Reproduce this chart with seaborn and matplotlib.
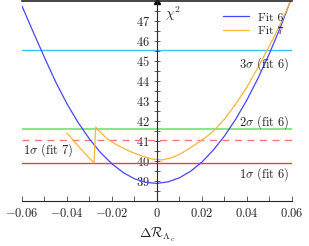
import numpy as np
import pandas as pd
import matplotlib
matplotlib.use('Agg')
import matplotlib.pyplot as plt
import seaborn as sns
from matplotlib.ticker import FixedLocator, MultipleLocator

# Fit 6 chi2 scan
fit6_x = [-0.060, -0.055, -0.050, -0.045, -0.040, -0.035, -0.030, -0.025, -0.020, -0.015, -0.010, -0.005,
          0.000, 0.005, 0.010, 0.015, 0.020, 0.025, 0.030, 0.035, 0.040, 0.045, 0.050, 0.055, 0.060]
fit6_y = [47.75, 46.45, 45.18, 43.95, 42.86, 41.92, 41.10, 40.41, 39.86, 39.42, 39.11, 38.93,
          38.88, 38.96, 39.16, 39.49, 39.95, 40.54, 41.25, 42.09, 43.06, 44.16, 45.38, 46.73, 48.21]

# Fit 7 chi2 scan (with the jump)
fit7_x = [-0.040, -0.034, -0.028, -0.0272, -0.025, -0.022, -0.019, -0.016, -0.012, -0.008, -0.004, -0.001,
          0.002, 0.006, 0.010, 0.014, 0.017, 0.020, 0.023, 0.026, 0.030, 0.035, 0.040, 0.045, 0.049, 0.052, 0.055, 0.0594]
fit7_y = [41.40, 40.62, 39.90, 41.69, 41.42, 41.10, 40.88, 40.70, 40.48, 40.30, 40.15, 40.08,
          40.05, 40.14, 40.33, 40.60, 40.82, 41.05, 41.30, 41.60, 42.10, 42.85, 43.70, 44.70, 45.55, 46.20, 46.90, 48.00]

# confidence levels
levels = [39.90, 41.60, 45.55]
level_names = [r'$1\sigma$ (fit 6)', r'$2\sigma$ (fit 6)', r'$3\sigma$ (fit 6)']
level7 = 41.07

sns.set_style('white')
plt.rcParams['font.family'] = ['cmr10', 'DejaVu Serif']
plt.rcParams['mathtext.fontset'] = 'cm'
plt.rcParams['axes.unicode_minus'] = False

df6 = pd.DataFrame({'x': fit6_x, 'y': fit6_y})
df7 = pd.DataFrame({'x': fit7_x, 'y': fit7_y})

fig = plt.figure(figsize=(3.09, 2.46), dpi=100)
ax = fig.add_axes([0.071, 0.183, 0.874, 0.813])

ax.axhline(levels[2], color='#3fc0ff', lw=1.0)
ax.axhline(levels[1], color='#86e886', lw=1.5)
ax.axhline(level7, color='#ff7878', lw=1.0, ls=(0, (5, 4)))
ax.axhline(levels[0], color='#ff3c3c', lw=1.0)

sns.lineplot(data=df6, x='x', y='y', color='#4646ff', lw=0.9, ax=ax, sort=False, estimator=None, label='Fit 6')
sns.lineplot(data=df7, x='x', y='y', color='#ffb43c', lw=0.9, ax=ax, sort=False, estimator=None, label='Fit 7')

ax.set_xlim(-0.06, 0.06)
ax.set_ylim(38, 48)

fs = 9
ax.text(0.059, levels[2] - 0.25, level_names[2], ha='right', va='top', fontsize=fs)
ax.text(0.059, levels[1] - 0.08, level_names[1], ha='right', va='bottom', fontsize=fs)
ax.text(0.059, levels[0] - 0.12, level_names[0], ha='right', va='top', fontsize=fs)
ax.text(-0.0595, level7 - 0.1, r'$1\sigma$ (fit 7)', ha='left', va='top', fontsize=fs)

# axes styling
ax.spines['right'].set_visible(False)
ax.spines['left'].set_position(('data', 0))
ax.spines['left'].set_linewidth(0.8)
ax.spines['bottom'].set_linewidth(0.8)
ax.spines['top'].set_linewidth(1.2)
ax.plot(0, 1, marker='^', color='k', ms=4, transform=ax.get_xaxis_transform(), clip_on=False)
ax.text(0.0035, 47.85, r'$\chi^2$', fontsize=fs + 1, va='top', ha='left')

ax.xaxis.set_major_locator(FixedLocator([-0.06, -0.04, -0.02, 0, 0.02, 0.04, 0.06]))
ax.xaxis.set_minor_locator(MultipleLocator(0.01))
ax.set_xticklabels([r'$-0.06$', r'$-0.04$', r'$-0.02$', r'$0$', r'$0.02$', r'$0.04$', r'$0.06$'], fontsize=fs)
ax.yaxis.set_major_locator(FixedLocator(list(range(39, 48))))
ax.yaxis.set_minor_locator(MultipleLocator(0.5))
ax.set_yticklabels([r'$%d$' % v for v in range(39, 48)], fontsize=fs)
ax.tick_params(axis='x', which='both', direction='in', length=3.5, width=0.5, bottom=True, pad=4)
ax.tick_params(axis='y', which='both', direction='inout', length=4, width=0.5, left=True, pad=3)
ax.set_xlabel(r'$\Delta\mathcal{R}_{\Lambda_c}$', fontsize=fs + 1, labelpad=5)
ax.set_ylabel('')

ax.legend(loc='upper right', frameon=False, fontsize=fs - 0.5, handlelength=2.2,
          borderaxespad=0.3, labelspacing=0.3, bbox_to_anchor=(1.0, 0.985))

fig.savefig('out.png', dpi=100)
